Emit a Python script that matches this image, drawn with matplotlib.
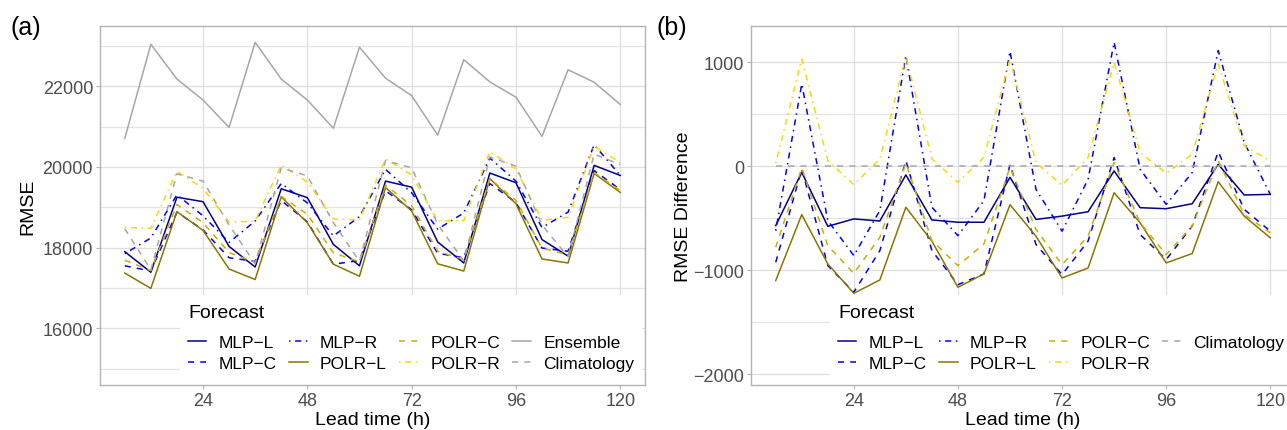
import matplotlib
matplotlib.use("Agg")
import matplotlib.pyplot as plt
from matplotlib.patches import Rectangle
from matplotlib.lines import Line2D

plt.rcParams['font.family'] = ['Liberation Sans', 'DejaVu Sans']

# ---------------- data ----------------
lead_time = [6, 12, 18, 24, 30, 36, 42, 48, 54, 60, 66, 72, 78, 84, 90, 96, 102, 108, 114, 120]

series_names = ["MLP−L", "MLP−C", "MLP−R", "POLR−L", "POLR−C", "POLR−R", "Ensemble", "Climatology"]

# panel (a): RMSE
rmse_mlp_l = [17900, 17390, 19250, 19140, 18030, 17520, 19460, 19240, 18080, 17550,
              19650, 19500, 18140, 17620, 19850, 19610, 18200, 17790, 20040, 19790]
rmse_mlp_c = [17550, 17420, 18880, 18440, 17750, 17660, 19170, 18640, 17590, 17680,
              19410, 18940, 17860, 17750, 19590, 19120, 17990, 17910, 19910, 19440]
rmse_mlp_r = [17850, 18240, 19310, 18790, 18130, 18660, 19590, 19110, 18290, 18770,
              19940, 19360, 18460, 18860, 20220, 19650, 18500, 18880, 20550, 19790]
rmse_polr_l = [17370, 16990, 18890, 18430, 17470, 17210, 19260, 18620, 17590, 17290,
               19490, 18910, 17600, 17420, 19710, 19090, 17720, 17620, 19840, 19370]
rmse_polr_c = [17690, 17430, 19070, 18620, 17880, 17630, 19270, 18830, 17870, 17650,
               19550, 19040, 17910, 17710, 19710, 19170, 17990, 17820, 19860, 19420]
rmse_polr_r = [18500, 18480, 19890, 19470, 18630, 18660, 20050, 19630, 18710, 18690,
               20200, 19800, 18660, 18670, 20380, 19950, 18680, 18750, 20520, 20110]
rmse_ensemble = [20710, 23040, 22180, 21660, 20980, 23090, 22180, 21660, 20960, 22970,
                 22200, 21770, 20790, 22660, 22110, 21730, 20760, 22410, 22100, 21550]
rmse_climatology = [18470, 17450, 19830, 19650, 18560, 17600, 19980, 19780, 18620, 17660,
                    20160, 19980, 18580, 17670, 20250, 20020, 18560, 17770, 20320, 20060]

# panel (b): RMSE difference to climatology
diff_mlp_l = [-570, -58, -577, -506, -526, -83, -516, -538, -538, -106,
              -511, -479, -437, -45, -398, -408, -360, 19, -276, -270]
diff_mlp_c = [-923, -26, -955, -1211, -811, 55, -811, -1138, -1035, 16,
              -752, -1041, -720, 84, -656, -897, -575, 139, -415, -624]
diff_mlp_r = [-619, 792, -522, -859, -426, 1064, -394, -667, -330, 1106,
              -222, -624, -125, 1193, -29, -366, -61, 1112, 228, -270]
diff_polr_l = [-1099, -465, -939, -1221, -1093, -394, -721, -1163, -1035, -369,
               -672, -1074, -978, -254, -543, -929, -839, -148, -479, -688]
diff_polr_c = [-779, -16, -763, -1029, -683, 29, -715, -955, -747, -10,
               -608, -945, -672, 36, -543, -849, -575, 52, -463, -640]
diff_polr_r = [29, 1032, 55, -176, 71, 1055, 71, -154, 87, 1032,
               36, -183, 84, 1000, 132, -67, 116, 984, 196, 52]
diff_climatology = [0, 0, 0, 0, 0, 0, 0, 0, 0, 0, 0, 0, 0, 0, 0, 0, 0, 0, 0, 0]

x_ticks = [24, 48, 72, 96, 120]
a_yticks = [16000, 18000, 20000, 22000]
a_yminor = [15000, 17000, 19000, 21000, 23000]
b_yticks = [-2000, -1000, 0, 1000]
b_yminor = [-1500, -500, 500]
b_yticklabels = ["−2000", "−1000", "0", "1000"]

# ---------------- styles ----------------
DASH = (0, (4, 4))
DOTDASH = (0, (1, 3, 4, 3))
styles = {
    "MLP−L": dict(color="#00008B", ls="-"),
    "MLP−C": dict(color="#0000EE", ls=DASH),
    "MLP−R": dict(color="#0000FF", ls=DOTDASH),
    "POLR−L": dict(color="#8B7500", ls="-"),
    "POLR−C": dict(color="#CDAD00", ls=DASH),
    "POLR−R": dict(color="#FFD700", ls=DOTDASH),
    "Ensemble": dict(color="#A6A6A6", ls="-"),
    "Climatology": dict(color="#A6A6A6", ls=DASH),
}
LW = 1.1
TICK_FS = 13
LEG_FS = 12.5

W, H = 1287, 431
fig = plt.figure(figsize=(W / 100, H / 100), dpi=100)


def px_axes(l, r, t, b):
    return fig.add_axes([l / W, 1 - b / H, (r - l) / W, (b - t) / H])


ax1 = px_axes(100, 645, 27, 386)
ax2 = px_axes(751, 1295, 27, 386)


def style(ax, ylim, yticks, ylabels, yminor):
    ax.set_xlim(0.3, 125.7)
    ax.set_ylim(*ylim)
    ax.set_xticks(x_ticks)
    ax.set_xticklabels([str(v) for v in x_ticks])
    ax.set_yticks(yticks)
    ax.set_yticklabels(ylabels)
    ax.set_yticks(yminor, minor=True)
    ax.set_axisbelow(True)
    ax.grid(which="major", color="#DEDEDE", lw=0.9)
    ax.grid(which="minor", axis="y", color="#E4E4E4", lw=0.9)
    ax.tick_params(which="minor", length=0)
    ax.tick_params(which="major", length=3, width=0.8, color="#B3B3B3",
                   labelsize=TICK_FS, labelcolor="#4D4D4D", pad=2)
    for s in ax.spines.values():
        s.set_color("#B3B3B3")
        s.set_linewidth(1.0)
    ax.set_xlabel("Lead time (h)", fontsize=14)
    ax.xaxis.set_label_coords(0.5, -0.072)


# panel (a)
a_data = {
    "MLP−L": rmse_mlp_l, "MLP−C": rmse_mlp_c, "MLP−R": rmse_mlp_r,
    "POLR−L": rmse_polr_l, "POLR−C": rmse_polr_c, "POLR−R": rmse_polr_r,
    "Ensemble": rmse_ensemble, "Climatology": rmse_climatology,
}
for name in series_names:
    ax1.plot(lead_time, a_data[name], lw=LW, **styles[name])
style(ax1, (14595, 23495), a_yticks, [str(v) for v in a_yticks], a_yminor)
ax1.set_ylabel("RMSE", fontsize=14)
ax1.yaxis.set_label_coords(-0.116, 0.5)

# panel (b)
b_data = {
    "MLP−L": diff_mlp_l, "MLP−C": diff_mlp_c, "MLP−R": diff_mlp_r,
    "POLR−L": diff_polr_l, "POLR−C": diff_polr_c, "POLR−R": diff_polr_r,
    "Climatology": diff_climatology,
}
b_names = [n for n in series_names if n in b_data]
for name in b_names:
    ax2.plot(lead_time, b_data[name], lw=LW, **styles[name])
style(ax2, (-2103, 1349), b_yticks, b_yticklabels, b_yminor)
ax2.set_ylabel("RMSE Difference", fontsize=14)
ax2.yaxis.set_label_coords(-0.108, 0.5)


def add_legend(ax, names, box_left_px, ax_left_px, ax_w_px, title_x_px):
    x0 = (box_left_px - ax_left_px) / ax_w_px
    ax.add_patch(Rectangle((x0, 0), 0.9945 - x0, (386 - 296) / 359, transform=ax.transAxes,
                           facecolor="white", edgecolor="none", zorder=1.5))
    handles = [Line2D([], [], lw=LW, **styles[n]) for n in names]
    leg = ax.legend(handles, names, ncol=4, loc="upper left",
                    bbox_to_anchor=(title_x_px / W, 1 - 305 / H), bbox_transform=fig.transFigure,
                    frameon=False, title="Forecast", title_fontsize=14, fontsize=LEG_FS,
                    handlelength=1.05, handletextpad=0.72, columnspacing=0.72,
                    labelspacing=0.36, borderpad=0, borderaxespad=0, alignment="left")
    leg._legend_box.sep = 10.0
    leg.set_zorder(5)


add_legend(ax1, series_names, 180, 100, 545, 188)
add_legend(ax2, b_names, 830, 751, 544, 838)

fig.text(10 / W, 1 - 28 / H, "(a)", fontsize=18, va="center", ha="left")
fig.text(657 / W, 1 - 28 / H, "(b)", fontsize=18, va="center", ha="left")

fig.savefig("out.png", dpi=100)
